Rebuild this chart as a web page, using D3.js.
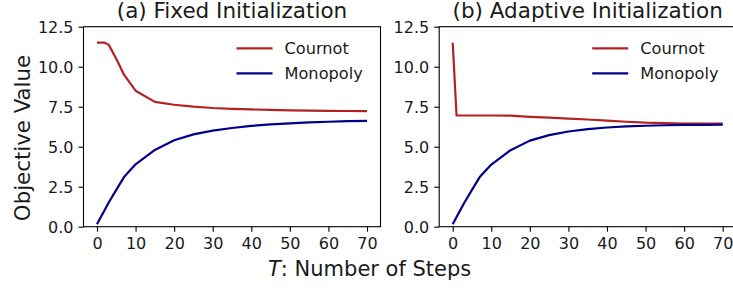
<!DOCTYPE html>
<html><head><meta charset="utf-8">
<script src="https://cdn.jsdelivr.net/npm/d3@7"></script>
<style>body{margin:0;background:#fff}svg{display:block;font-family:"DejaVu Sans",sans-serif}</style>
</head><body><svg id="c" width="733" height="288"></svg>
<script>
const steps = [0,1,2,3,5,7,10,15,20,25,30,35,40,45,50,55,60,65,70];
const cournotFixed = [11.5,11.5,11.5,11.38,10.5,9.5,8.5,7.8,7.62,7.5,7.42,7.37,7.33,7.3,7.27,7.25,7.24,7.23,7.22];
const monopolyFixed = [0.15,0.6,1.05,1.5,2.3,3.1,3.9,4.8,5.4,5.77,6.0,6.17,6.3,6.39,6.46,6.52,6.56,6.6,6.62];
const cournotAdaptive = [11.5,6.95,6.95,6.95,6.95,6.95,6.95,6.94,6.87,6.82,6.76,6.7,6.63,6.56,6.5,6.47,6.45,6.44,6.44];
const monopolyAdaptive = [0.15,0.6,1.05,1.5,2.3,3.1,3.88,4.78,5.38,5.72,5.95,6.1,6.2,6.27,6.31,6.34,6.36,6.37,6.38];
const xTicks = [0,10,20,30,40,50,60,70];
const yTicks = [0,2.5,5,7.5,10,12.5];
const titles = ["(a) Fixed Initialization","(b) Adaptive Initialization"];
const seriesNames = ["Cournot","Monopoly"];
const colors = ["#b22222","#00008b"];

const svg = d3.select("#c");
const plotTop = 26.7, plotBottom = 226.7, plotW = 297;
const panels = [
  {left:83.5, data:[cournotFixed, monopolyFixed], title:titles[0]},
  {left:439.2, data:[cournotAdaptive, monopolyAdaptive], title:titles[1]}
];
panels.forEach(p => {
  const x = d3.scaleLinear().domain([-3.5,73.5]).range([p.left, p.left+plotW]);
  const y = d3.scaleLinear().domain([0,12.5]).range([plotBottom, plotTop]);
  const g = svg.append("g");
  const ax = g.append("g").attr("transform",`translate(0,${plotBottom})`)
    .call(d3.axisBottom(x).tickValues(xTicks).tickFormat(d3.format("d")).tickSize(5).tickPadding(4));
  const ay = g.append("g").attr("transform",`translate(${p.left},0)`)
    .call(d3.axisLeft(y).tickValues(yTicks).tickFormat(d3.format(".1f")).tickSize(5).tickPadding(5));
  [ax,ay].forEach(a => {
    a.select(".domain").remove();
    a.selectAll("line").attr("stroke","#000").attr("stroke-width",1.1);
    a.selectAll("text").attr("font-size",16).attr("fill","#1a1a1a").attr("font-family","DejaVu Sans");
  });
  ay.selectAll("text").attr("dy","0.35em");
  ax.selectAll("text").attr("dy","0.85em");
  g.append("rect").attr("x",p.left).attr("y",plotTop).attr("width",plotW).attr("height",plotBottom-plotTop)
    .attr("fill","none").attr("stroke","#000").attr("stroke-width",1.1);
  const line = d3.line().x((d,i)=>x(steps[i])).y(d=>y(d));
  p.data.forEach((s,k) => {
    g.append("path").datum(s).attr("d",line).attr("fill","none")
      .attr("stroke",colors[k]).attr("stroke-width",2.2).attr("stroke-linejoin","round");
  });
  g.append("text").attr("x",p.left+plotW/2).attr("y",18).attr("text-anchor","middle")
    .attr("font-size",21.5).attr("fill","#1a1a1a").text(p.title);
  seriesNames.forEach((n,k) => {
    const ly = 48.3 + k*25;
    g.append("line").attr("x1",p.left+plotW-144).attr("x2",p.left+plotW-108).attr("y1",ly).attr("y2",ly)
      .attr("stroke",colors[k]).attr("stroke-width",2.2);
    g.append("text").attr("x",p.left+plotW-96).attr("y",ly+5.5).attr("font-size",16.2)
      .attr("fill","#1a1a1a").text(n);
  });
});
svg.append("text").attr("transform","translate(30,138) rotate(-90)").attr("text-anchor","middle")
  .attr("font-size",21.3).attr("fill","#1a1a1a").text("Objective Value");
const xl = svg.append("text").attr("x",268).attr("y",276).attr("font-size",21).attr("fill","#1a1a1a");
xl.append("tspan").attr("font-style","italic").text("T");
xl.append("tspan").text(": Number of Steps");
</script></body></html>
